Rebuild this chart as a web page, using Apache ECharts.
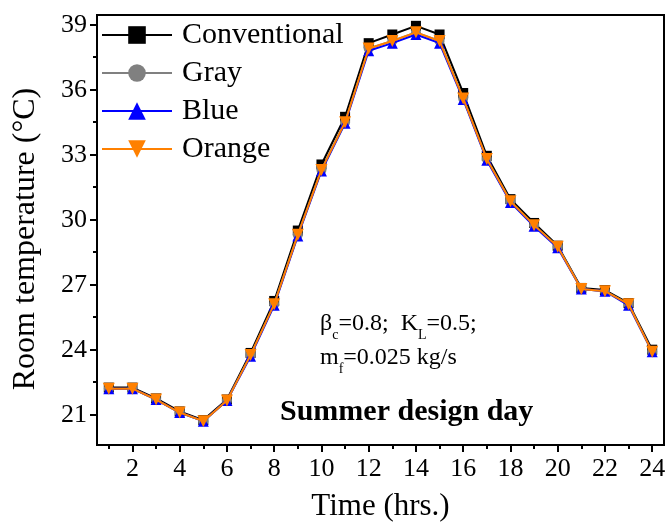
<!DOCTYPE html>
<html>
<head>
<meta charset="utf-8">
<script src="https://cdn.jsdelivr.net/npm/echarts@6/dist/echarts.min.js"></script>
<style>html,body{margin:0;padding:0;background:#fff;}#c{width:667px;height:523px;}</style>
</head>
<body>
<div id="c"></div>
<script>
const hours = [1,2,3,4,5,6,7,8,9,10,11,12,13,14,15,16,17,18,19,20,21,22,23,24];
const conventional = [22.25,22.25,21.75,21.15,20.75,21.7,23.85,26.25,29.5,32.55,34.75,38.15,38.55,38.95,38.55,35.85,32.95,30.95,29.85,28.8,26.85,26.75,26.15,24.0];
const gray = [22.2,22.2,21.7,21.1,20.7,21.65,23.75,26.1,29.3,32.3,34.5,37.9,38.25,38.65,38.25,35.6,32.8,30.85,29.75,28.75,26.8,26.7,26.1,23.9];
const blue = [22.2,22.2,21.7,21.1,20.7,21.65,23.7,26.05,29.25,32.25,34.45,37.8,38.15,38.55,38.15,35.55,32.75,30.8,29.7,28.7,26.8,26.7,26.05,23.9];
const orange = [22.2,22.2,21.7,21.1,20.7,21.65,23.75,26.1,29.3,32.3,34.5,37.9,38.25,38.65,38.25,35.6,32.8,30.85,29.75,28.75,26.8,26.7,26.1,23.9];
const seriesNames = ['Conventional','Gray','Blue','Orange'];
const yMajor = [21,24,27,30,33,36,39];
const yMinor = [22.5,25.5,28.5,31.5,34.5,37.5];
const xMajor = [2,4,6,8,10,12,14,16,18,20,22,24];
const xMinor = [1,3,5,7,9,11,13,15,17,19,21,23];

const F = 'Liberation Serif, Times New Roman, serif';
const pairs = arr => hours.map((h,i)=>[h,arr[i]]);
const colors = ['#000000','#808080','#0000ff','#ff8000'];
const symbols = ['rect','circle','triangle','path://M0,0L20,0L10,17Z'];
const sizes = [10,10,11,12];
const data = [conventional,gray,blue,orange];
const richA = {
  n:{fontFamily:F,fontSize:24,color:'#000',lineHeight:24,verticalAlign:'top'},
  s:{fontFamily:F,fontSize:14,color:'#000',lineHeight:30,verticalAlign:'bottom'}
};

const chart = echarts.init(document.getElementById('c'), null, {renderer:'canvas'});
chart.setOption({
  animation:false,
  backgroundColor:'#fff',
  grid:{left:97,right:3,top:15,bottom:78,outerBoundsMode:'none',containLabel:false,show:true,borderColor:'#000',borderWidth:2,backgroundColor:'transparent'},
  legend:{
    orient:'vertical',left:96,top:15,itemWidth:70,itemHeight:22,itemGap:8,
    textStyle:{fontFamily:F,fontSize:30,color:'#000',padding:[0,0,0,5]},
    data:seriesNames
  },
  xAxis:[{
    type:'value',min:0.5,max:24.5,
    name:'Time (hrs.)',nameLocation:'middle',nameGap:46,
    nameTextStyle:{fontFamily:F,fontSize:31,color:'#000'},
    axisLine:{lineStyle:{color:'#000',width:2}},
    axisTick:{customValues:xMajor,length:7,lineStyle:{width:2,color:'#000'}},
    axisLabel:{customValues:xMajor,fontFamily:F,fontSize:26,color:'#000',margin:11},
    splitLine:{show:false}
  },{
    type:'value',min:0.5,max:24.5,position:'bottom',
    axisLine:{show:false},
    axisTick:{customValues:xMinor,length:4,lineStyle:{width:2,color:'#000'}},
    axisLabel:{show:false},splitLine:{show:false}
  }],
  yAxis:[{
    type:'value',min:19.6,max:39.45,
    name:'Room temperature (°C)',nameLocation:'middle',nameGap:55,
    nameTextStyle:{fontFamily:F,fontSize:32,color:'#000',padding:[0,18,0,0]},
    axisLine:{show:true,lineStyle:{color:'#000',width:2}},
    axisTick:{show:true,customValues:yMajor,length:7,lineStyle:{width:2,color:'#000'}},
    axisLabel:{customValues:yMajor,fontFamily:F,fontSize:26,color:'#000',margin:10},
    splitLine:{show:false}
  },{
    type:'value',min:19.6,max:39.45,position:'left',
    axisLine:{show:false},
    axisTick:{show:true,customValues:yMinor,length:4,lineStyle:{width:2,color:'#000'}},
    axisLabel:{show:false},splitLine:{show:false}
  }],
  series:seriesNames.map((n,i)=>({
    name:n,type:'line',data:pairs(data[i]),
    symbol:symbols[i],symbolSize:sizes[i],showAllSymbol:true,
    itemStyle:{color:colors[i]},
    lineStyle:{color:colors[i],width:2},
    z:2+i
  })),
  graphic:[
    {type:'text',left:320,top:312,style:{text:'{n|β}{s|c}{n|=0.8;  K}{s|L}{n|=0.5;}',rich:richA}},
    {type:'text',left:320,top:346,style:{text:'{n|m}{s|f}{n|=0.025 kg/s}',rich:richA}},
    {type:'text',left:280,top:397,style:{text:'Summer design day',fontFamily:F,fontSize:30,fontWeight:'bold',fill:'#000'}}
  ]
});
</script>
</body>
</html>
